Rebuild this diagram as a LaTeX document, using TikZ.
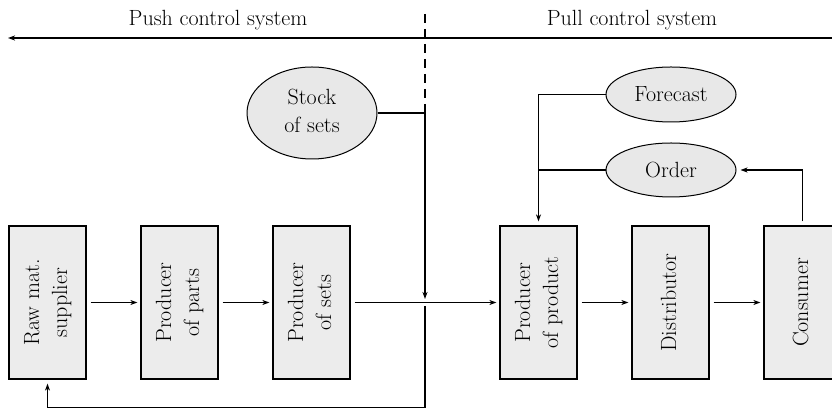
\documentclass[tikz,border=0pt]{standalone}
\usepackage{graphicx}
\usetikzlibrary{shapes.geometric,arrows.meta}
\newcommand{\vlabel}[1]{\rotatebox{90}{\begin{tabular}{@{}c@{}}#1\end{tabular}}}
\begin{document}
\begin{tikzpicture}[x=1pt,y=1pt,
    font=\fontsize{22}{28}\selectfont,
    stage/.style={draw,line width=1.2pt,fill=gray!15,minimum width=77pt,minimum height=153pt,inner sep=0pt},
    store/.style={ellipse,draw,line width=1pt,fill=gray!18,inner sep=0pt},
    flow/.style={line width=0.9pt,-{Stealth[length=7pt,width=5pt,inset=2pt]}},
    link/.style={line width=1.1pt}]
    \useasboundingbox (0,0) rectangle (832,409);
    % headings
    \coordinate (axisR) at (832,371);
    \coordinate (axisL) at (8,371);
    \draw[flow,line width=1.3pt] (axisR) -- (axisL);
    \node[anchor=base] (push) at (218,383) {Push control system};
    \node[anchor=base] (pull) at (632,383) {Pull control system};
    % stages
    \node[stage] (raw)   at (47.5,106.5)  {\vlabel{Raw mat.\\supplier}};
    \node[stage] (parts) at (179.5,106.5) {\vlabel{Producer\\of parts}};
    \node[stage] (sets)  at (311.5,106.5) {\vlabel{Producer\\of sets}};
    \node[stage] (prod)  at (538.5,106.5) {\vlabel{Producer\\of product}};
    \node[stage] (dist)  at (670.5,106.5) {\vlabel{Distributor}};
    \node[stage] (cons)  at (802.5,106.5) {\vlabel{Consumer}};
    % stores
    \node[store,minimum width=130pt,minimum height=92pt] (stock) at (312,296) {\begin{tabular}{@{}c@{}}Stock\\of sets\end{tabular}};
    \node[store,minimum width=130pt,minimum height=55pt] (fcast) at (671,314.5) {Forecast};
    \node[store,minimum width=130pt,minimum height=54pt] (order) at (671,239) {Order};
    % main flow
    \draw[flow] ([xshift=4pt]raw.east) -- ([xshift=-3pt]parts.west);
    \draw[flow] ([xshift=4pt]parts.east) -- ([xshift=-3pt]sets.west);
    \draw[flow] ([xshift=4pt]sets.east) -- ([xshift=-3pt]prod.west);
    \draw[flow] ([xshift=4pt]prod.east) -- ([xshift=-3pt]dist.west);
    \draw[flow] ([xshift=4pt]dist.east) -- ([xshift=-3pt]cons.west);
    % push/pull divide
    \coordinate (divtop)  at (425,395);
    \coordinate (divjoin) at (425,296);
    \coordinate (cross)   at (425,106);
    \coordinate (divbot)  at (425,1.5);
    \draw[link,dash pattern=on 9pt off 6pt] (divtop) -- (divjoin);
    \draw[link] (stock.east) -- (divjoin);
    \draw[flow,line width=1.1pt] (divjoin) -- ([yshift=4pt]cross);
    \draw[flow,line width=1.1pt] ([yshift=-3pt]cross) -- (divbot) -| ([yshift=-4pt]raw.south);
    % pull signals
    \draw[flow,line width=1.1pt] (fcast.west) -| ([yshift=4pt]prod.north);
    \draw[link] (order.west) -- (order.west -| prod.north);
    \draw[flow,line width=1.1pt] ([yshift=4pt]cons.north) |- ([xshift=4pt]order.east);
\end{tikzpicture}
\end{document}
